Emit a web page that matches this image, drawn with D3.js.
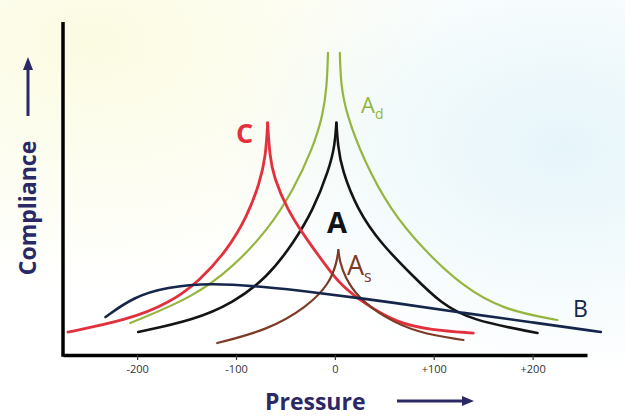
<!DOCTYPE html>
<html>
<head>
<meta charset="utf-8">
<script src="https://cdn.jsdelivr.net/npm/d3@7"></script>
<style>
  html, body { margin: 0; padding: 0; background: #fff; }
  svg { display: block; }
</style>
</head>
<body>
<svg id="chart" width="625" height="418"></svg>
<script>
// Tympanogram types: compliance vs. ear-canal pressure (daPa)
const tickValues = [-200, -100, 0, 100, 200];
const tickLabels = ["-200", "-100", "0", "+100", "+200"];

// [pressure, compliance] points, left to right
const typeC = [[-270, 6.9], [-210, 10.5], [-167, 15.6], [-136, 22.5], [-109, 31.5], [-89, 41.4], [-76, 51.7], [-70, 59.5], [-68, 69.7],
               [-66, 60], [-62, 53.5], [-48, 43.5], [-28, 34.5], [-8, 26.4], [6, 21], [29, 15.6], [63, 9.6], [97, 7.5], [140, 6.6]];
const typeAdLeft = [[-207, 9.6], [-143, 17.4], [-103, 26.4], [-68, 37.5], [-42, 49.5], [-22, 62.4], [-12, 72], [-8, 81], [-7, 90.7]];
const typeAdRight = [[5, 90.7], [6, 81], [12, 72], [29, 58.6], [56, 43.5], [90, 31.5], [130, 20.4], [171, 13.5], [225, 10.5]];
const typeA = [[-199, 6.9], [-143, 10.5], [-103, 15.6], [-68, 23.4], [-42, 33.6], [-22, 43.5], [-6, 55.6], [0, 63], [1.5, 69.7],
               [3, 63], [7, 55.6], [23, 43.5], [46, 33.6], [80, 23.4], [107, 15.6], [137, 10.5], [205, 6.6]];
const typeAs = [[-119, 3.6], [-68, 7.5], [-28, 14.4], [-5, 21.6], [2, 28], [3.5, 31.5],
                [5, 28], [10, 23.5], [23, 17.4], [49, 11.4], [84, 6.6], [130, 4.5]];
const typeB = [[-232, 11.4], [-204, 17.4], [-170, 20.4], [-126, 21.6], [-75, 20.6], [-22, 18.9], [63, 15.6], [130, 12.6], [198, 9.9], [269, 6.9]];

const svg = d3.select("#chart");
const W = 625, H = 418;
const navy = "#2b2866";

// faint background tint
const defs = svg.append("defs");
const g1 = defs.append("radialGradient").attr("id", "tintY").attr("cx", "0.15").attr("cy", "0.1").attr("r", "0.6");
g1.append("stop").attr("offset", "0").attr("stop-color", "#fbfbe2");
g1.append("stop").attr("offset", "1").attr("stop-color", "#fbfbe2").attr("stop-opacity", 0);
const g2 = defs.append("radialGradient").attr("id", "tintC").attr("cx", "0.9").attr("cy", "0.35").attr("r", "0.55");
g2.append("stop").attr("offset", "0").attr("stop-color", "#e6f5fa");
g2.append("stop").attr("offset", "1").attr("stop-color", "#e6f5fa").attr("stop-opacity", 0);
svg.append("rect").attr("width", W).attr("height", H).attr("fill", "#fff");
svg.append("rect").attr("width", W).attr("height", H).attr("fill", "url(#tintY)");
svg.append("rect").attr("width", W).attr("height", H).attr("fill", "url(#tintC)");

const x = d3.scaleLinear().domain([-275, 255]).range([63, 587]);
const y = d3.scaleLinear().domain([0, 100]).range([355, 22]);

// axes
const xAxis = d3.axisBottom(x).tickValues(tickValues).tickFormat((d, i) => tickLabels[i]).tickSize(5).tickSizeOuter(0);
const gx = svg.append("g").attr("transform", `translate(0,${y(0)})`).call(xAxis);
gx.select(".domain").attr("stroke", "#000").attr("stroke-width", 3.5);
gx.selectAll(".tick line").attr("stroke", "#333").attr("stroke-width", 1.2);
gx.selectAll(".tick text").attr("fill", "#333").attr("font-family", "Open Sans").attr("font-size", 11).attr("dy", "0.9em");

svg.append("line").attr("x1", 63).attr("x2", 63).attr("y1", y(100)).attr("y2", y(0) + 1.75)
  .attr("stroke", "#000").attr("stroke-width", 3.5);

// curves: split at the peak so each branch ends in a sharp point
const line = d3.line().x(d => x(d[0])).y(d => y(d[1])).curve(d3.curveBasis);
function branches(pts) {
  const i = d3.maxIndex(pts, d => d[1]);
  return [pts.slice(0, i + 1), pts.slice(i)];
}
function draw(parts, color, width) {
  parts.forEach(p => svg.append("path").attr("d", line(p)).attr("fill", "none")
    .attr("stroke", color).attr("stroke-width", width).attr("stroke-linecap", "round"));
}
const red = "#e2313d", green = "#95b53e", black = "#141414", brown = "#7d3b26", blue = "#15264a";
draw([typeAdLeft, typeAdRight], green, 2.2);
draw(branches(typeA), black, 2.6);
draw(branches(typeC), red, 2.8);
draw(branches(typeAs), brown, 2.2);
draw([typeB], blue, 2.6);

// curve labels
function label(tx, ty, txt, color, size, weight, sub, subSize) {
  const t = svg.append("text").attr("x", tx).attr("y", ty).attr("fill", color)
    .attr("font-family", "Open Sans").attr("font-size", size).attr("font-weight", weight).text(txt);
  if (sub) t.append("tspan").attr("font-size", subSize).attr("dy", subSize * 0.45).text(sub);
}
label(236, 143, "C", red, 27, 700);
label(361, 113, "A", green, 22, 400, "d", 14);
label(327, 233, "A", black, 29, 700);
label(347, 275, "A", brown, 27, 400, "s", 16);
label(573, 317, "B", blue, 23, 400);

// axis titles with arrows
svg.append("text").attr("transform", "translate(36,208) rotate(-90)").attr("text-anchor", "middle")
  .attr("fill", navy).attr("font-family", "Open Sans").attr("font-weight", 700).attr("font-size", 23).text("Compliance");
svg.append("text").attr("x", 265).attr("y", 410).attr("fill", navy)
  .attr("font-family", "Open Sans").attr("font-weight", 700).attr("font-size", 23).text("Pressure");

svg.append("line").attr("x1", 28).attr("x2", 28).attr("y1", 116).attr("y2", 68).attr("stroke", navy).attr("stroke-width", 3);
svg.append("path").attr("d", "M28,57 L33,70 L23,70 Z").attr("fill", navy);
svg.append("line").attr("x1", 397).attr("x2", 463).attr("y1", 401).attr("y2", 401).attr("stroke", navy).attr("stroke-width", 3);
svg.append("path").attr("d", "M474,401 L462,396 L462,406 Z").attr("fill", navy);
</script>
</body>
</html>
